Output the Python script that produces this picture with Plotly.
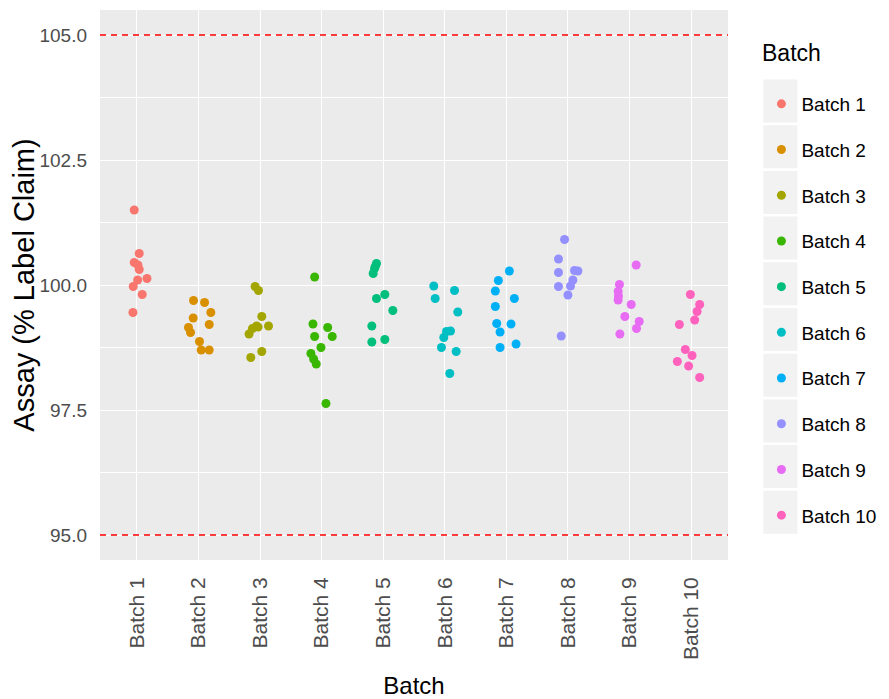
import plotly.graph_objects as go

batches = ["Batch 1", "Batch 2", "Batch 3", "Batch 4", "Batch 5",
           "Batch 6", "Batch 7", "Batch 8", "Batch 9", "Batch 10"]
colors = ["#F8766D", "#D89000", "#A3A500", "#39B600", "#00BF7D",
          "#00BFC4", "#00B0F6", "#9590FF", "#E76BF3", "#FF62BC"]

# assay values (% label claim) per batch
b1 = [101.50, 100.63, 100.45, 100.40, 100.31, 100.13, 100.10, 99.97, 99.81, 99.45]
b2 = [99.69, 99.65, 99.45, 99.34, 99.21, 99.15, 99.05, 98.87, 98.70, 98.70]
b3 = [99.97, 99.89, 99.37, 99.18, 99.18, 99.16, 99.13, 99.02, 98.67, 98.55]
b4 = [100.16, 99.22, 99.15, 98.97, 98.97, 98.75, 98.63, 98.52, 98.42, 97.63]
b5 = [100.43, 100.38, 100.33, 100.23, 99.81, 99.73, 99.49, 99.18, 98.91, 98.86]
b6 = [99.98, 99.89, 99.73, 99.46, 99.08, 99.07, 98.95, 98.75, 98.67, 98.23]
b7 = [100.28, 100.09, 99.88, 99.73, 99.57, 99.23, 99.22, 99.06, 98.82, 98.75]
b8 = [100.91, 100.52, 100.29, 100.28, 100.25, 100.10, 99.98, 99.97, 99.80, 98.98]
b9 = [100.40, 100.01, 99.87, 99.78, 99.70, 99.61, 99.37, 99.27, 99.13, 99.02]
b10 = [99.81, 99.61, 99.47, 99.30, 99.21, 98.71, 98.59, 98.47, 98.38, 98.15]

# horizontal jitter (category units)
j1 = [-0.044, 0.037, -0.044, 0.016, 0.037, 0.163, 0.011, -0.060, 0.086, -0.065]
j2 = [-0.081, 0.098, 0.200, -0.086, 0.174, -0.163, -0.130, 0.016, 0.044, 0.174]
j3 = [-0.081, -0.026, 0.028, 0.137, -0.059, -0.033, -0.124, -0.179, 0.028, -0.151]
j4 = [-0.114, -0.141, 0.098, -0.114, 0.172, -0.011, -0.174, -0.130, -0.088, 0.070]
j5 = [-0.109, -0.125, -0.141, -0.163, 0.026, -0.109, 0.156, -0.185, 0.026, -0.185]
j6 = [-0.179, 0.158, -0.156, 0.211, 0.093, 0.028, -0.016, -0.054, 0.185, 0.081]
j7 = [0.049, -0.130, -0.179, 0.130, -0.179, -0.156, 0.076, -0.102, 0.158, -0.102]
j8 = [-0.055, -0.153, 0.107, 0.163, -0.153, 0.081, 0.042, -0.153, 0.000, -0.109]
j9 = [0.109, -0.163, -0.184, -0.179, -0.184, 0.028, -0.075, 0.158, 0.114, -0.156]
j10 = [-0.011, 0.140, 0.098, 0.059, -0.190, -0.093, 0.016, -0.223, -0.039, 0.140]

values = [b1, b2, b3, b4, b5, b6, b7, b8, b9, b10]
jitters = [j1, j2, j3, j4, j5, j6, j7, j8, j9, j10]

spec_limits = [95.0, 105.0]
y_ticks = [95.0, 97.5, 100.0, 102.5, 105.0]
y_tick_labels = ["95.0", "97.5", "100.0", "102.5", "105.0"]

# page has an 8px body margin, so figure coords = page coords - 8
OFF = 8
W, H = 889 - OFF, 699 - OFF
ML, MT = 100 - OFF, 10 - OFF
MR = W - (727.6 - OFF)
MB = H - (560 - OFF)
PW, PH = W - ML - MR, H - MT - MB


def px_x(page_x):
    return (page_x - OFF - ML) / PW


def px_y(page_y):
    return (H - MB - (page_y - OFF)) / PH


fig = go.Figure()
for i, (name, vals, jit, col) in enumerate(zip(batches, values, jitters, colors)):
    fig.add_trace(go.Scatter(
        x=[i + 1 + d for d in jit], y=vals, mode="markers", name=name,
        legendgroup=name,
        marker=dict(color=col, size=9, line=dict(width=0)),
    ))

for lim in spec_limits:
    fig.add_shape(type="line", xref="paper", x0=0, x1=1, yref="y", y0=lim, y1=lim,
                  line=dict(color="red", width=1.5, dash="6px,5px"), layer="above")

# legend key backgrounds
item_h = 45.7
first_c = 101
for i in range(len(batches)):
    cy = first_c + i * item_h
    fig.add_shape(type="rect", xref="paper", yref="paper",
                  x0=px_x(763), x1=px_x(797),
                  y0=px_y(cy + 21.5), y1=px_y(cy - 21.5),
                  fillcolor="#F2F2F2", line=dict(width=0), layer="below")

fig.add_annotation(text="Batch", xref="paper", yref="paper", x=px_x(760), y=px_y(53),
                   xanchor="left", yanchor="middle", showarrow=False,
                   font=dict(size=23, color="black"))

fig.update_layout(
    width=W, height=H,
    margin=dict(l=ML, r=MR, t=MT, b=MB),
    paper_bgcolor="white", plot_bgcolor="#EBEBEB",
    font=dict(family="Liberation Sans, Arial, sans-serif"),
    showlegend=True,
    legend=dict(
        font=dict(size=19, color="black"),
        x=px_x(761), xanchor="left",
        y=px_y(85), yanchor="top",
        bgcolor="rgba(0,0,0,0)", tracegroupgap=18,
    ),
    xaxis=dict(
        range=[0.4, 10.6], tickmode="array", tickvals=list(range(1, 11)),
        ticktext=batches, tickangle=-90, showgrid=True, gridcolor="white",
        gridwidth=1.1, zeroline=False, ticks="", ticklabelstandoff=12,
        tickfont=dict(size=21, color="#4D4D4D"),
        title=dict(text="Batch", font=dict(size=24, color="black"), standoff=18),
        automargin=False,
    ),
    yaxis=dict(
        range=[94.5, 105.5], tickmode="array", tickvals=y_ticks,
        ticktext=y_tick_labels, showgrid=True, gridcolor="white", gridwidth=1.1,
        zeroline=False, ticks="", ticklabelstandoff=12,
        tickfont=dict(size=19, color="#4D4D4D"),
        minor=dict(tickmode="array", tickvals=[95.0 + 1.25 + 2.5 * k for k in range(4)],
                   showgrid=True, gridcolor="white", gridwidth=0.55),
        title=dict(text="Assay (% Label Claim)", font=dict(size=29, color="black"), standoff=3),
        automargin=False,
    ),
)

fig.write_html("out.html")
